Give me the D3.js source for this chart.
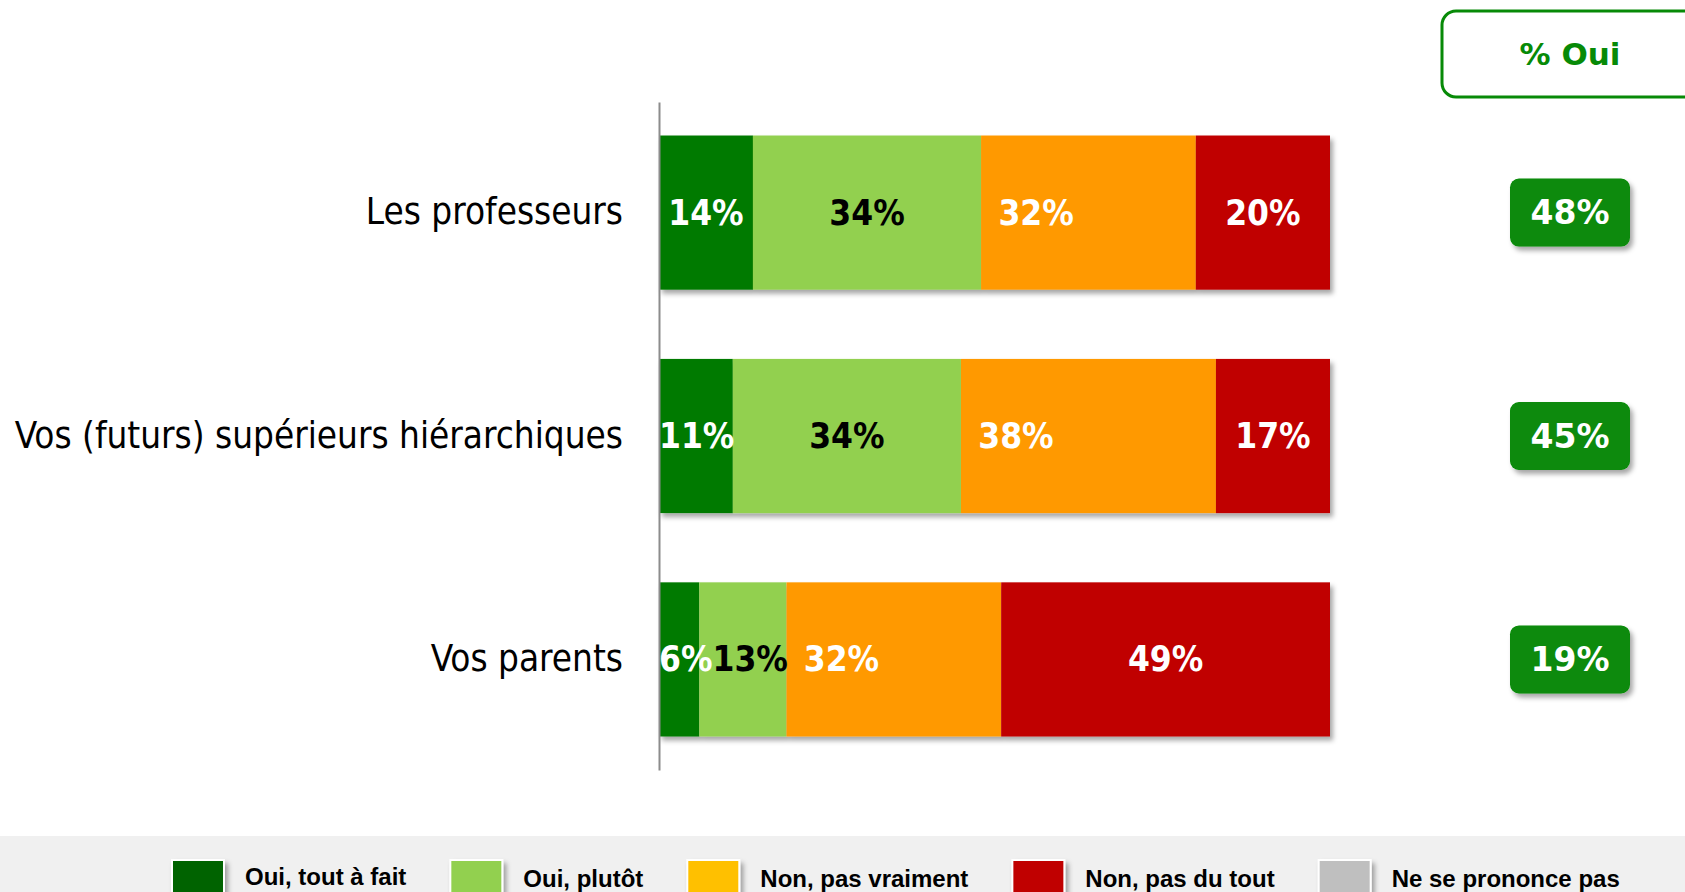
<!DOCTYPE html>
<html>
<head>
<meta charset="utf-8">
<script src="https://cdn.jsdelivr.net/npm/d3@7"></script>
<style>
  body { margin: 0; background: #fff; }
  svg { display: block; }
</style>
</head>
<body>
<div id="chart"></div>
<script>
// data
const categories = ["Les professeurs", "Vos (futurs) supérieurs hiérarchiques", "Vos parents"];
const seriesNames = ["Oui, tout à fait", "Oui, plutôt", "Non, pas vraiment", "Non, pas du tout", "Ne se prononce pas"];
const ouiToutAFait = [14, 11, 6];
const ouiPlutot = [34, 34, 13];
const nonPasVraiment = [32, 38, 32];
const nonPasDuTout = [20, 17, 49];
const nspp = [0, 0, 0];
const pctOui = [48, 45, 19];

const barColors = ["#007a00", "#92d050", "#ff9900", "#c00000", "#bfbfbf"];
const legendColors = ["#006400", "#92d050", "#ffc000", "#c00000", "#bfbfbf"];
const labelColors = ["#fff", "#000", "#fff", "#fff", "#000"];

const W = 1685, H = 892;

const svg = d3.select("#chart").append("svg")
  .attr("width", W)
  .attr("height", H);

const defs = svg.append("defs");
defs.append("filter").attr("id", "shadow")
  .attr("x", "-10%").attr("y", "-10%").attr("width", "130%").attr("height", "140%")
  .append("feDropShadow")
    .attr("dx", 3).attr("dy", 4).attr("stdDeviation", 2.5)
    .attr("flood-color", "#000").attr("flood-opacity", 0.35);

const rows = categories.map((c, i) => ({
  cat: c,
  s0: ouiToutAFait[i], s1: ouiPlutot[i], s2: nonPasVraiment[i], s3: nonPasDuTout[i], s4: nspp[i]
}));
const keys = ["s0", "s1", "s2", "s3", "s4"];
const stacked = d3.stack().keys(keys)(rows);

const x = d3.scaleLinear().domain([0, 100]).range([659, 1330]);
const y = d3.scaleBand()
  .domain(categories)
  .range([102, 770])
  .paddingInner(0.31)
  .paddingOuter(0.15);

// bars
const barsG = svg.append("g").attr("filter", "url(#shadow)");
barsG.selectAll("g.layer")
  .data(stacked)
  .enter().append("g")
    .attr("fill", (d, i) => barColors[i])
  .selectAll("rect")
  .data(d => d)
  .enter().append("rect")
    .attr("x", d => x(d[0]))
    .attr("y", d => y(d.data.cat))
    .attr("width", d => x(d[1]) - x(d[0]))
    .attr("height", y.bandwidth());

// y axis
const yAxis = svg.append("g")
  .attr("transform", "translate(" + x(0) + ",0)")
  .call(d3.axisLeft(y).tickSize(0).tickSizeOuter(0).tickPadding(36));
yAxis.select(".domain").attr("stroke", "#8c8c8c").attr("stroke-width", 2);
yAxis.selectAll("text")
  .attr("fill", "#000")
  .style("font-family", "'DejaVu Sans', sans-serif")
  .style("font-stretch", "condensed")
  .style("font-size", "36.6px");

// segment labels (kept inside the bar start, pushed right when they overlap)
const labG = svg.append("g")
  .style("font-family", "'DejaVu Sans', sans-serif")
  .style("font-stretch", "condensed")
  .style("font-weight", "bold")
  .style("font-size", "35px");

categories.forEach((c, ci) => {
  let prevRight = x(0);
  stacked.forEach((layer, li) => {
    const d = layer[ci];
    const v = d[1] - d[0];
    if (v <= 0) return;
    let cx = li === 2 ? x(d[0]) + 55 : (x(d[0]) + x(d[1])) / 2;
    const t = labG.append("text")
      .attr("x", cx)
      .attr("y", y(c) + y.bandwidth() / 2)
      .attr("text-anchor", "middle")
      .attr("dominant-baseline", "central")
      .attr("fill", labelColors[li])
      .text(v + "%");
    const w = t.node().getComputedTextLength();
    if (cx - w / 2 < prevRight) {
      cx = prevRight + w / 2;
      t.attr("x", cx);
    }
    prevRight = cx + w / 2;
  });
});

// % Oui header
svg.append("rect")
  .attr("x", 1442).attr("y", 11)
  .attr("width", 280).attr("height", 86)
  .attr("rx", 14)
  .attr("fill", "#fff")
  .attr("stroke", "#078a07")
  .attr("stroke-width", 3);
svg.append("text")
  .attr("x", 1570).attr("y", 54)
  .attr("text-anchor", "middle")
  .attr("dominant-baseline", "central")
  .attr("fill", "#078a07")
  .style("font-family", "'DejaVu Sans', sans-serif")
  .style("font-weight", "bold")
  .style("font-size", "31px")
  .text("% Oui");

// % Oui value boxes
const boxW = 120, boxH = 68;
const ouiG = svg.append("g").selectAll("g")
  .data(pctOui)
  .enter().append("g")
    .attr("transform", (d, i) => "translate(1570," + (y(categories[i]) + y.bandwidth() / 2) + ")");
ouiG.append("rect")
  .attr("x", -boxW / 2).attr("y", -boxH / 2)
  .attr("width", boxW).attr("height", boxH)
  .attr("rx", 9)
  .attr("fill", "#078a07")
  .attr("filter", "url(#shadow)");
ouiG.append("text")
  .attr("text-anchor", "middle")
  .attr("dominant-baseline", "central")
  .attr("fill", "#fff")
  .style("font-family", "'DejaVu Sans', sans-serif")
  .style("font-weight", "bold")
  .style("font-size", "33px")
  .text(d => d + "%");

// legend
svg.append("rect")
  .attr("x", 0).attr("y", 836)
  .attr("width", W).attr("height", H - 836)
  .attr("fill", "#f0f0f0");

let lx = 172;
seriesNames.forEach((name, i) => {
  svg.append("rect")
    .attr("x", lx).attr("y", 860)
    .attr("width", 52).attr("height", 34)
    .attr("fill", legendColors[i])
    .attr("stroke", "#fff")
    .attr("stroke-width", 2)
    .attr("filter", "url(#shadow)");
  const t = svg.append("text")
    .attr("x", lx + 73).attr("y", i === 0 ? 885 : 887)
    .attr("fill", "#000")
    .style("font-family", "'Liberation Sans', Arial, sans-serif")
    .style("font-weight", "bold")
    .style("font-size", "24px")
    .text(name);
  lx += 73 + t.node().getComputedTextLength() + 44;
});
</script>
</body>
</html>
